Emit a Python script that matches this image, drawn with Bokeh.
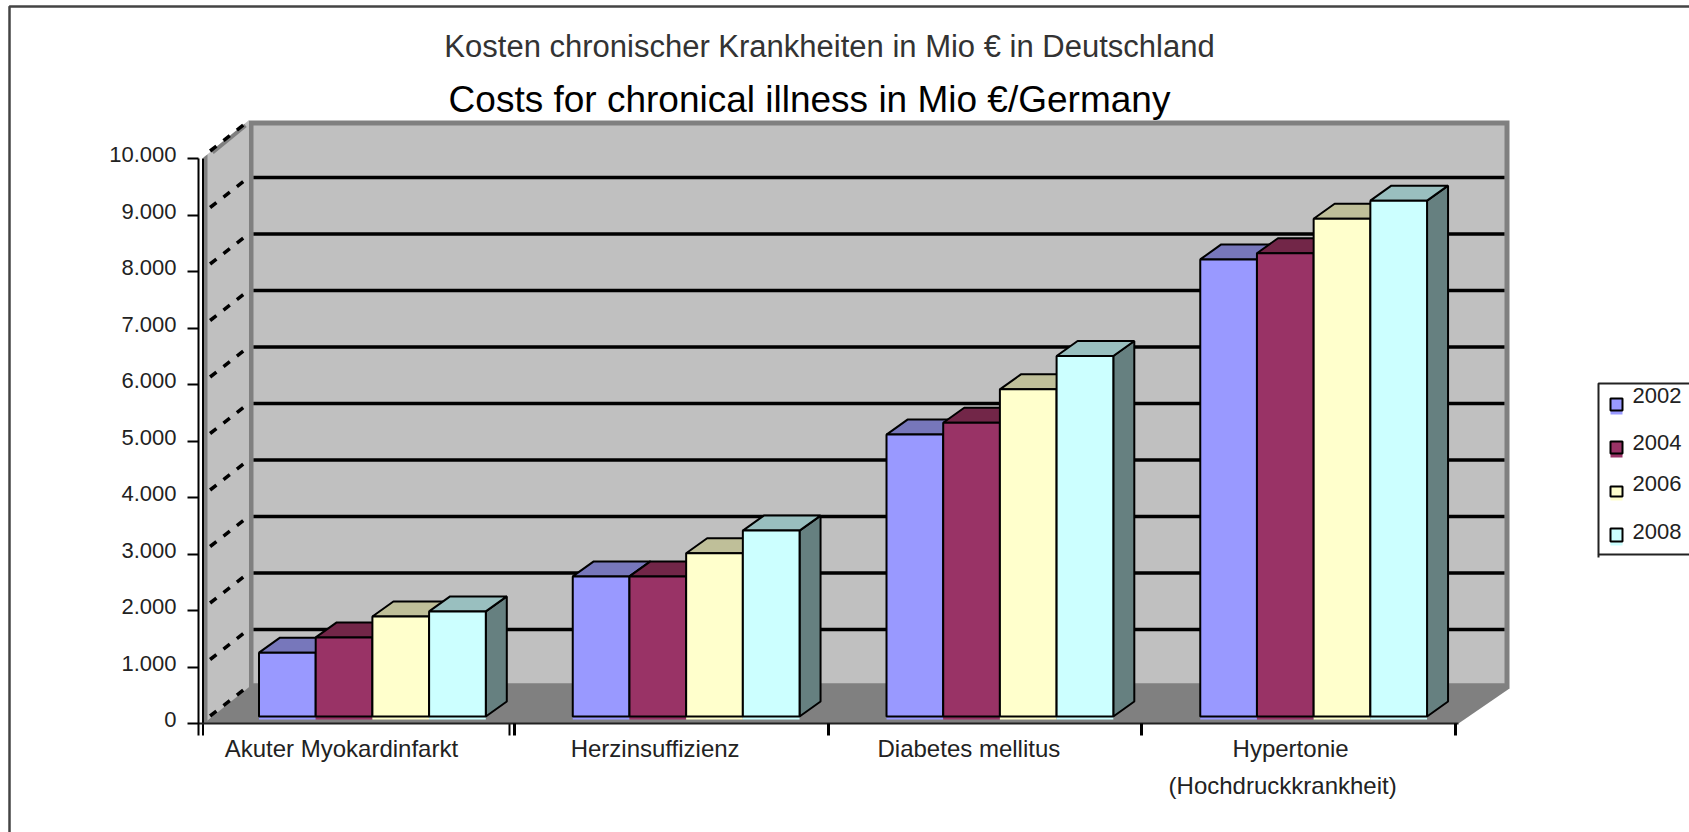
from bokeh.plotting import figure
from bokeh.models import Range1d, LinearAxis, FixedTicker
from bokeh.core.properties import value
from bokeh.embed import file_html
from bokeh.resources import INLINE

categories = ["Akuter Myokardinfarkt", "Herzinsuffizienz", "Diabetes mellitus", "Hypertonie\n(Hochdruckkrankheit)"]
years = ["2002", "2004", "2006", "2008"]
s2002 = [1130, 2480, 4990, 8090]
s2004 = [1400, 2480, 5200, 8200]
s2006 = [1770, 2890, 5790, 8810]
s2008 = [1860, 3290, 6380, 9130]
series = [s2002, s2004, s2006, s2008]
y_ticks = [0, 1000, 2000, 3000, 4000, 5000, 6000, 7000, 8000, 9000, 10000]
y_labels = ["0", "1.000", "2.000", "3.000", "4.000", "5.000", "6.000", "7.000", "8.000", "9.000", "10.000"]
front = ["#9999FF", "#993366", "#FFFFCC", "#CCFFFF"]
top = ["#7777BB", "#722648", "#BFBF99", "#99BFBF"]
side = ["#5C5C99", "#5C1F3D", "#99997A", "#668080"]
title_de = "Kosten chronischer Krankheiten in Mio € in Deutschland"
title_en = "Costs for chronical illness in Mio €/Germany"

W, H = 1689, 832
BAND = 313.75   # pixels per category
K = 0.0565      # pixels per unit of value
X0, Y0 = 200, 723


def X(px):
    return (px - X0) / BAND


def Y(py):
    return (Y0 - py) / K


def dX(px):
    return px / BAND


def dY(px):
    return px / K


p = figure(width=W, height=H, output_backend="svg", toolbar_location=None,
           x_range=Range1d(X(0), X(W)), y_range=Range1d(Y(H), Y(0)),
           min_border=0, outline_line_color=None, background_fill_color="white")
p.xaxis.visible = False
p.yaxis.visible = False
p.grid.visible = False

# page frame
p.line([X(9), X(9), X(W)], [Y(H), Y(6), Y(6)], line_color="#444444", line_width=2.5)

# back wall, side wall, floor
p.patch([X(248), X(1509), X(1509), X(248)], [Y(120), Y(120), Y(688), Y(688)], fill_color="#808080", line_color=None)
p.patch([X(253), X(1504), X(1504), X(253)], [Y(125), Y(125), Y(683), Y(683)], fill_color="#C0C0C0", line_color=None)
p.patch([X(203), X(248), X(248), X(203)], [Y(157), Y(120), Y(688), Y(723)], fill_color="#C0C0C0", line_color=None)
p.patch([X(203), X(207), X(207), X(203)], [Y(157), Y(154), Y(723), Y(723)], fill_color="#808080", line_color=None)
p.patch([X(203), X(253), X(1504), X(1509), X(1458)], [Y(723), Y(683), Y(683), Y(688), Y(723)], fill_color="#808080", line_color=None)
p.line([X(212), X(245)], [Y(152), Y(125)], line_color="#808080", line_width=4)

# grid lines on the walls
DEPTH_Y = 37.5
for v in y_ticks[1:-1]:
    p.line([X(253), X(1504)], [v + dY(DEPTH_Y)] * 2, line_color="black", line_width=3.5)
for v in y_ticks:
    x_a, x_b = X(200 + 48 * 0.2), X(200 + 48 * 0.97)
    y_a, y_b = v + dY(DEPTH_Y * 0.2), v + dY(DEPTH_Y * 0.97)
    p.line([x_a, x_b], [y_a, y_b], line_color="black", line_width=3.5, line_dash="8 9")

# bars
BAR_OFF, BAR_W = dX(58.5), dX(56.7)
BAR_DX, BAR_DY = dX(21), dY(15)
BASE = dY(7)  # front of bars stands 7 px behind the axis plane
for s, vals in enumerate(series):
    for c, val in enumerate(vals):
        x0 = c + BAR_OFF + s * BAR_W
        x1 = x0 + BAR_W
        ytop = BASE + val
        ybot = BASE
        p.quad(left=x0, right=x1, bottom=ybot - dY(3), top=ybot, fill_color=front[s], line_color=None)
        p.patch([x1, x1 + BAR_DX, x1 + BAR_DX, x1], [ybot, ybot + BAR_DY, ytop + BAR_DY, ytop],
                fill_color=side[s], line_color="black", line_width=2)
        p.patch([x0, x1, x1 + BAR_DX, x0 + BAR_DX], [ytop, ytop, ytop + BAR_DY, ytop + BAR_DY],
                fill_color=top[s], line_color="black", line_width=2)
        p.quad(left=x0, right=x1, bottom=ybot, top=ytop, fill_color=front[s], line_color="black", line_width=2)

# axes: tick marks on the value scale, labels on the same scale raised a few pixels as in the reference
LABEL_RAISE = 4
p.extra_y_ranges = {"labels": Range1d(Y(H) - dY(LABEL_RAISE), Y(0) - dY(LABEL_RAISE))}
yaxis = LinearAxis(fixed_location=X(198), ticker=FixedTicker(ticks=y_ticks),
                   major_label_overrides={t: "" for t in y_ticks},
                   bounds=(Y(735), Y(158)), axis_line_color="black", axis_line_width=2,
                   major_tick_line_color="black", major_tick_line_width=2,
                   major_tick_in=0, major_tick_out=11, minor_tick_line_color=None)
p.add_layout(yaxis, "left")
ylabels = LinearAxis(y_range_name="labels", fixed_location=X(198), ticker=FixedTicker(ticks=y_ticks),
                     major_label_overrides=dict(zip(y_ticks, y_labels)),
                     axis_line_color=None, major_tick_line_color=None, minor_tick_line_color=None,
                     major_tick_in=0, major_tick_out=10,
                     major_label_standoff=12, major_label_text_font="Liberation Sans",
                     major_label_text_font_size="22px", major_label_text_color="#222222")
p.add_layout(ylabels, "left")
p.line([X(202.5), X(202.5)], [Y(735), Y(158)], line_color="black", line_width=2)

xaxis = LinearAxis(fixed_location=0, ticker=FixedTicker(ticks=[1, 2, 3, 4]),
                   major_label_overrides={i: "" for i in range(1, 5)},
                   bounds=(X(198), X(1458)), axis_line_color="#222222", axis_line_width=2,
                   major_tick_line_color="black", major_tick_line_width=3,
                   major_tick_in=0, major_tick_out=12, minor_tick_line_color=None)
p.add_layout(xaxis, "below")
p.line([X(509), X(509)], [Y(723), Y(735)], line_color="black", line_width=2)

cat_x = [i + 0.5 - dX(16) for i in range(len(categories))]
for cx, cat in zip(cat_x, categories):
    parts = cat.split("\n")
    for j, part in enumerate(parts):
        nudge = dX(8) if len(parts) > 1 and j == 0 else 0
        p.text(x=[cx + nudge], y=[Y(748 + j * 37)], text=[part], text_align="center", text_baseline="middle",
               text_font=value("Liberation Sans"), text_font_size="24px", text_color="#222222")

# titles
p.text(x=[X(829)], y=[Y(46)], text=[title_de], text_align="center", text_baseline="middle",
       text_font=value("Liberation Sans"), text_font_size="31px", text_color="#333333")
p.text(x=[X(809)], y=[Y(99)], text=[title_en], text_align="center", text_baseline="middle",
       text_font=value("Liberation Sans"), text_font_size="37px", text_color="black")

# legend
p.line([X(W), X(1598), X(1598), X(W)], [Y(383), Y(383), Y(554), Y(554)], line_color="#222222", line_width=2)
p.line([X(1598), X(1598)], [Y(554), Y(557)], line_color="#222222", line_width=2)
leg_y = [395, 442, 483, 531]
leg_top = [398, 441, 486, 528]
leg_bot = [410, 453, 496, 541]
for yr, col, ty, t0, t1 in zip(years, front, leg_y, leg_top, leg_bot):
    p.quad(left=X(1610), right=X(1622), top=Y(t1), bottom=Y(t1 + 4), fill_color=col, line_color=None)
    p.quad(left=X(1610), right=X(1622), top=Y(t0), bottom=Y(t1), fill_color=col, line_color="black", line_width=2)
    p.text(x=[X(1632)], y=[Y(ty)], text=[yr], text_align="left", text_baseline="middle",
           text_font=value("Liberation Sans"), text_font_size="22px", text_color="#222222")

open("out.html", "w").write(file_html(p, INLINE))
